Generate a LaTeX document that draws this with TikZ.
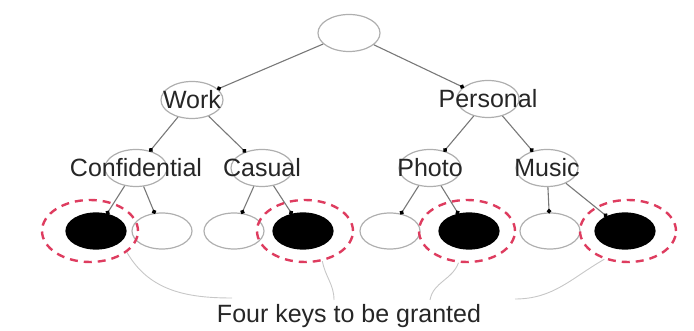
\documentclass[tikz,border=0pt]{standalone}
\usepackage{fontspec}
\setmainfont{Liberation Sans}
\usetikzlibrary{shapes.geometric}
\usetikzlibrary{positioning}
\usetikzlibrary{arrows.meta}
\definecolor{ringred}{RGB}{222,60,95}
\definecolor{edgegray}{RGB}{120,120,120}
\definecolor{rimgray}{RGB}{175,175,175}
\tikzset{%
  link/.style = {-{Circle[black,length=4.5pt]},draw=edgegray,line width=1.1pt,shorten >=-1pt},
  tag/.style = {ellipse,draw=rimgray,line width=1.2pt,minimum width=62pt,
        minimum height=37pt,inner sep=0pt,on grid},
  leaf/.style = {ellipse,draw=rimgray,line width=1.2pt,minimum width=60pt,
        minimum height=36pt,inner sep=0pt,on grid},
  key/.style = {leaf,fill=black,draw=black},
  keyring/.style = {ellipse,draw=ringred,dashed,dash pattern=on 8pt off 6pt,
        line width=2.4pt,minimum width=96pt,minimum height=62pt,inner sep=0pt},
  brace/.style = {draw=rimgray!70,line width=0.9pt},
  word/.style = {font=\fontsize{25}{30}\selectfont,text=black!85}
}
\begin{document}
\begin{tikzpicture}
   \useasboundingbox (0,0) rectangle (694pt,-331pt);
   \node[tag] (root) at (349pt,-33pt) {};
   \node[tag,label={[word]center:Work}] (work) [below left=67pt and 157pt of root] {};
   \node[tag,label={[word]center:Personal}] (personal) [below right=66pt and 139pt of root] {};

   \node[tag,label={[word]center:Confidential}] (confidential) [below left=68pt and 56pt of work] {};
   \node[tag,label={[word]center:Casual}] (casual) [below right=68pt and 70pt of work] {};
   \node[tag,label={[word]center:Photo}] (photo) [below left=69pt and 58pt of personal] {};
   \node[tag,label={[word]center:Music}] (music) [below right=69pt and 59pt of personal] {};

   \node[key] (leaf1) [below left=63pt and 40pt of confidential] {};
   \node[leaf] (leaf2) [below right=63pt and 26pt of confidential] {};
   \node[leaf] (leaf3) [below left=63pt and 28pt of casual] {};
   \node[key] (leaf4) [below right=63pt and 41pt of casual] {};
   \node[leaf] (leaf5) [below left=63pt and 40pt of photo] {};
   \node[key] (leaf6) [below right=63pt and 39pt of photo] {};
   \node[leaf] (leaf7) [below right=63pt and 3pt of music] {};
   \node[key] (leaf8) [below right=63pt and 78pt of music] {};

   \node[keyring] (ring1) at ([xshift=-6pt]leaf1) {};
   \node[keyring] (ring4) at ([xshift=2pt]leaf4) {};
   \node[keyring] (ring6) at ([xshift=-2pt]leaf6) {};
   \node[keyring] (ring8) at ([xshift=3pt]leaf8) {};

   \draw[link] (root) -- (work);
   \draw[link] (root) -- (personal);
   \draw[link] (work) -- (confidential);
   \draw[link] (work) -- (casual);
   \draw[link] (personal) -- (photo);
   \draw[link] (personal) -- (music);
   \draw[link] (confidential) -- (leaf1);
   \draw[link] (confidential) -- (leaf2);
   \draw[link] (casual) -- (leaf3);
   \draw[link] (casual) -- (leaf4);
   \draw[link] (photo) -- (leaf5);
   \draw[link] (photo) -- (leaf6);
   \draw[link] (music) -- (leaf7);
   \draw[link] (music) -- (leaf8);

   \node[word] (keys) at (349pt,-316pt) {Four keys to be granted};
   \coordinate (join1) at (232pt,-298pt);
   \coordinate (join4) at (334pt,-300pt);
   \coordinate (join6) at (430pt,-300pt);
   \coordinate (join8) at (515pt,-299pt);
   \draw[brace] (ring1.-30) to[out=-60,in=180] (join1);
   \draw[brace] (ring4.-60) to[out=-80,in=90] (join4);
   \draw[brace] (ring6.-105) to[out=-110,in=80] (join6);
   \draw[brace] (ring8.-130) to[out=-150,in=0] (join8);
\end{tikzpicture}
\end{document}
